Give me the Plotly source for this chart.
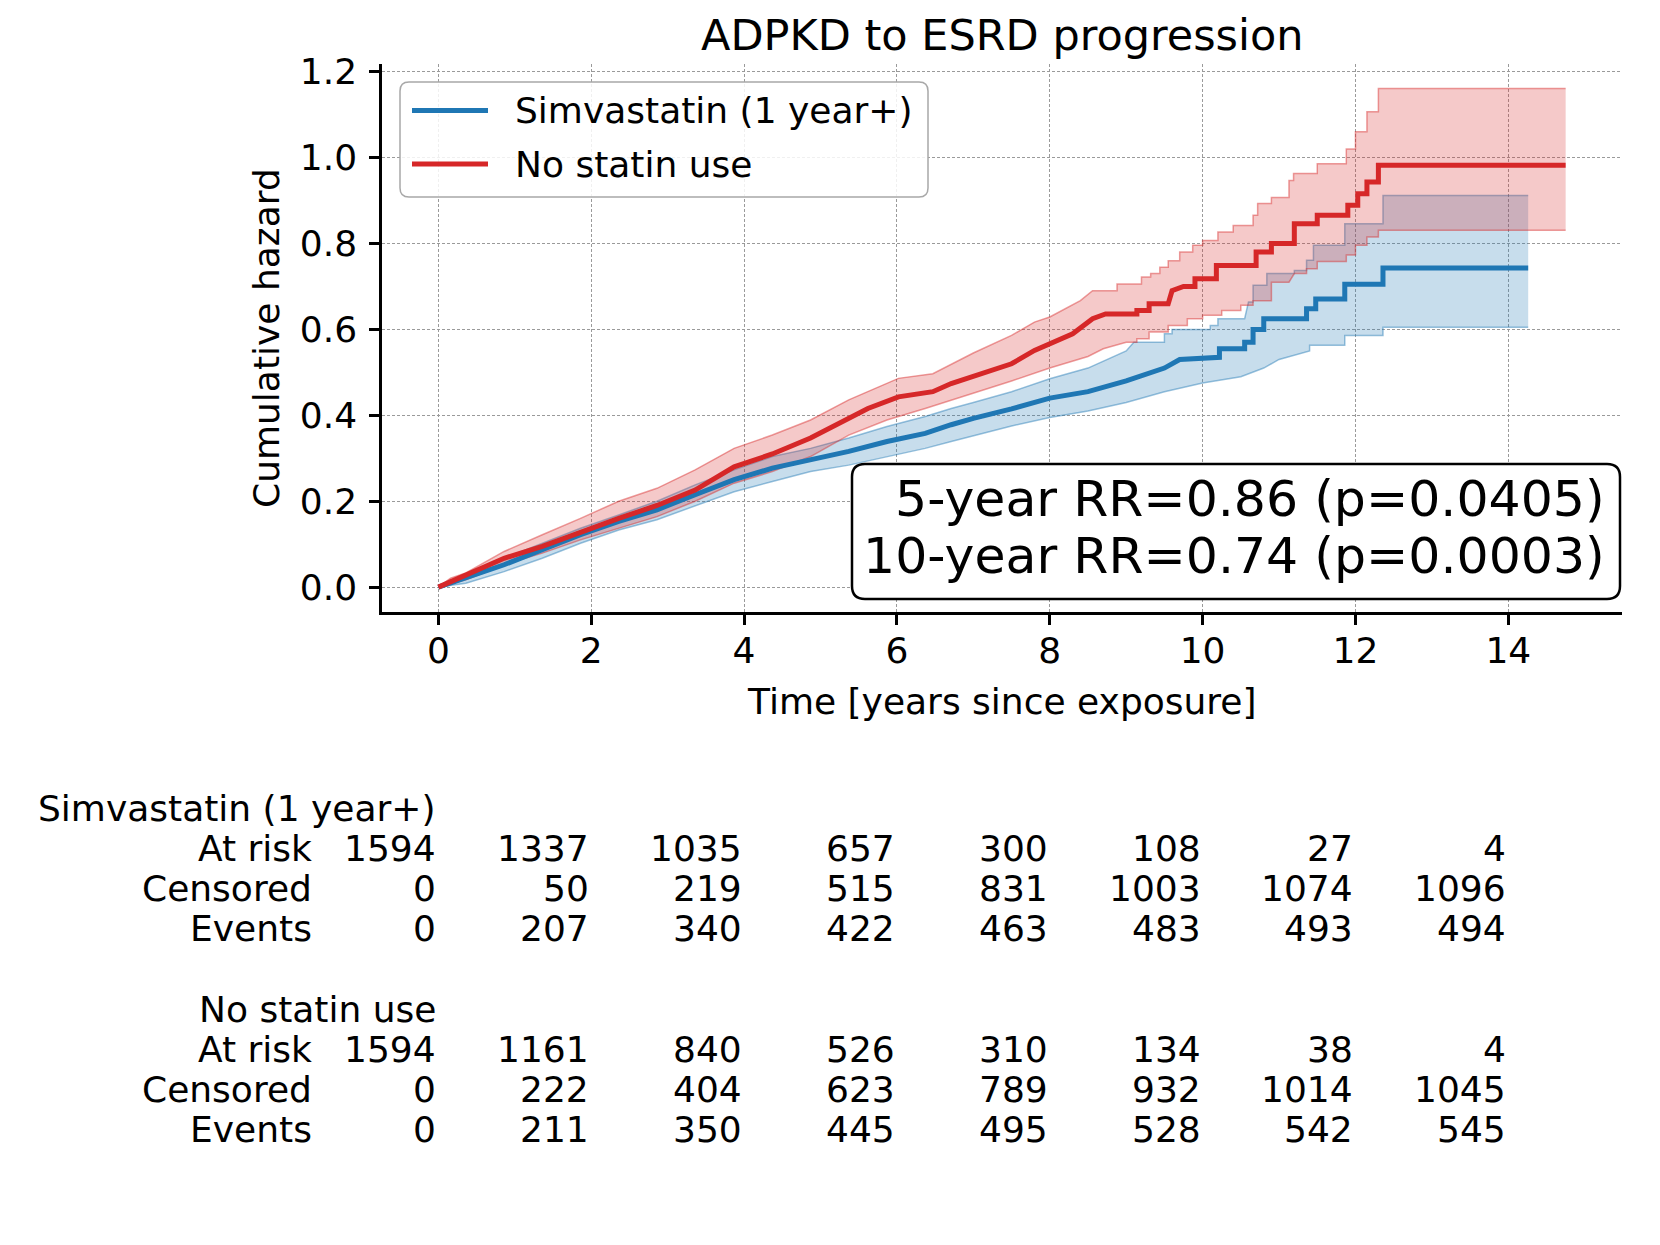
import plotly.graph_objects as go

# ---------------- data ----------------
title_text = "ADPKD to ESRD progression"
group_names = ["Simvastatin (1 year+)", "No statin use"]
row_labels = ["At risk", "Censored", "Events"]
tick_years = [0, 2, 4, 6, 8, 10, 12, 14]
y_ticks = [0.0, 0.2, 0.4, 0.6, 0.8, 1.0, 1.2]
rr_lines = ["5-year RR=0.86 (p=0.0405)", "10-year RR=0.74 (p=0.0003)"]

# cumulative hazard (time, value) — Simvastatin (1 year+)
simva_line = [(0, 0), (0.36, 0.021), (0.86, 0.052), (1.36, 0.087), (1.86, 0.122), (2.36, 0.153),
              (2.86, 0.18), (3.36, 0.215), (3.87, 0.25), (4.37, 0.277), (4.87, 0.296), (5.37, 0.316),
              (5.87, 0.339), (6.37, 0.358), (6.71, 0.378), (7.0, 0.393), (7.5, 0.415), (8.0, 0.44),
              (8.5, 0.455), (9.0, 0.48), (9.5, 0.51), (9.7, 0.53), (10.22, 0.535), (10.22, 0.555),
              (10.55, 0.555), (10.55, 0.57), (10.66, 0.57), (10.66, 0.60), (10.8, 0.60), (10.8, 0.625),
              (11.36, 0.625), (11.36, 0.648), (11.48, 0.648), (11.48, 0.671), (11.86, 0.671),
              (11.86, 0.705), (12.36, 0.705), (12.36, 0.743), (14.26, 0.743)]
simva_upper = [(0, 0), (0.36, 0.029), (0.86, 0.067), (1.36, 0.102), (1.86, 0.137), (2.36, 0.168),
               (2.86, 0.2), (3.36, 0.238), (3.87, 0.273), (4.37, 0.304), (4.87, 0.323), (5.37, 0.347),
               (5.87, 0.374), (6.37, 0.397), (6.71, 0.416), (7.0, 0.43), (7.5, 0.455), (8.0, 0.485),
               (8.5, 0.51), (9.0, 0.55), (9.1, 0.57), (9.5, 0.57), (9.5, 0.59), (9.6, 0.59), (9.6, 0.60),
               (10.1, 0.60), (10.1, 0.609), (10.2, 0.609), (10.2, 0.625), (10.55, 0.625), (10.6, 0.664),
               (10.66, 0.664), (10.66, 0.703), (10.84, 0.703), (10.84, 0.73), (11.2, 0.73), (11.2, 0.737),
               (11.36, 0.737), (11.36, 0.761), (11.45, 0.761), (11.45, 0.796), (11.86, 0.796),
               (11.86, 0.846), (12.36, 0.846), (12.36, 0.912), (14.26, 0.912)]
simva_lower = [(0, 0), (0.36, 0.009), (0.86, 0.036), (1.36, 0.067), (1.86, 0.102), (2.36, 0.133),
               (2.86, 0.157), (3.36, 0.19), (3.87, 0.222), (4.37, 0.246), (4.87, 0.269), (5.37, 0.284),
               (5.87, 0.304), (6.37, 0.323), (6.71, 0.339), (7.0, 0.352), (7.5, 0.375), (8.0, 0.395),
               (8.5, 0.41), (9.0, 0.43), (9.5, 0.455), (10.0, 0.475), (10.5, 0.49), (10.8, 0.51),
               (11.0, 0.53), (11.4, 0.55), (11.4, 0.563), (11.86, 0.563), (11.86, 0.586), (12.36, 0.586),
               (12.36, 0.605), (14.26, 0.605)]

# cumulative hazard (time, value) — No statin use
nostat_line = [(0, 0), (0.36, 0.029), (0.86, 0.067), (1.36, 0.095), (1.86, 0.129), (2.36, 0.16),
               (2.86, 0.19), (3.36, 0.226), (3.87, 0.28), (4.37, 0.31), (4.87, 0.347), (5.37, 0.393),
               (5.62, 0.416), (6.02, 0.443), (6.47, 0.455), (6.71, 0.474), (7.0, 0.49), (7.5, 0.52),
               (7.8, 0.551), (8.03, 0.57), (8.3, 0.59), (8.56, 0.625), (8.73, 0.636), (9.14, 0.636),
               (9.14, 0.644), (9.3, 0.644), (9.3, 0.66), (9.55, 0.66), (9.6, 0.69), (9.75, 0.70),
               (9.9, 0.70), (9.9, 0.718), (10.18, 0.718), (10.18, 0.749), (10.7, 0.749), (10.7, 0.78),
               (10.9, 0.78), (10.9, 0.80), (11.2, 0.80), (11.2, 0.846), (11.5, 0.846), (11.5, 0.866),
               (11.9, 0.866), (11.9, 0.889), (12.03, 0.889), (12.03, 0.916), (12.15, 0.916),
               (12.15, 0.943), (12.3, 0.943), (12.3, 0.982), (14.75, 0.982)]
nostat_upper = [(0, 0), (0.16, 0.021), (0.36, 0.033), (0.86, 0.083), (1.36, 0.122), (1.86, 0.16),
                (2.36, 0.2), (2.86, 0.23), (3.36, 0.273), (3.87, 0.323), (4.37, 0.354), (4.87, 0.389),
                (5.37, 0.436), (6.02, 0.486), (6.47, 0.497), (6.71, 0.519), (7.0, 0.545), (7.5, 0.586),
                (7.8, 0.617), (8.0, 0.629), (8.2, 0.648), (8.4, 0.667), (8.56, 0.69), (8.88, 0.69),
                (8.88, 0.706), (9.2, 0.706), (9.2, 0.722), (9.32, 0.722), (9.32, 0.73), (9.44, 0.73),
                (9.44, 0.745), (9.55, 0.745), (9.55, 0.76), (9.7, 0.76), (9.7, 0.78), (9.87, 0.78),
                (9.87, 0.796), (10.0, 0.796), (10.0, 0.807), (10.2, 0.807), (10.2, 0.827), (10.4, 0.827),
                (10.4, 0.842), (10.66, 0.842), (10.66, 0.866), (10.72, 0.866), (10.72, 0.893),
                (10.9, 0.893), (10.9, 0.907), (11.13, 0.907), (11.13, 0.947), (11.19, 0.947),
                (11.19, 0.963), (11.5, 0.963), (11.5, 0.986), (11.88, 0.986), (11.88, 1.02), (12.0, 1.02),
                (12.0, 1.06), (12.15, 1.06), (12.15, 1.107), (12.3, 1.107), (12.3, 1.161), (14.75, 1.161)]
nostat_lower = [(0, 0), (0.36, 0.017), (0.86, 0.052), (1.36, 0.079), (1.86, 0.11), (2.36, 0.137),
                (2.86, 0.164), (3.36, 0.2), (3.87, 0.242), (4.37, 0.269), (4.87, 0.304), (5.37, 0.354),
                (5.87, 0.389), (6.37, 0.416), (6.71, 0.435), (7.0, 0.452), (7.5, 0.48), (8.0, 0.51),
                (8.5, 0.537), (8.7, 0.555), (9.0, 0.57), (9.14, 0.57), (9.14, 0.578), (9.3, 0.578),
                (9.3, 0.594), (9.55, 0.594), (9.55, 0.609), (9.8, 0.609), (9.8, 0.625), (10.0, 0.625),
                (10.0, 0.633), (10.25, 0.633), (10.25, 0.644), (10.5, 0.644), (10.5, 0.656),
                (10.66, 0.656), (10.66, 0.667), (10.9, 0.667), (10.9, 0.71), (11.13, 0.71), (11.2, 0.73),
                (11.36, 0.73), (11.36, 0.741), (11.5, 0.741), (11.5, 0.758), (11.88, 0.758),
                (11.88, 0.773), (12.0, 0.773), (12.0, 0.796), (12.15, 0.796), (12.15, 0.815),
                (12.3, 0.815), (12.3, 0.831), (14.75, 0.831)]

# number-at-risk table
simva_at_risk = [1594, 1337, 1035, 657, 300, 108, 27, 4]
simva_censored = [0, 50, 219, 515, 831, 1003, 1074, 1096]
simva_events = [0, 207, 340, 422, 463, 483, 493, 494]
nostat_at_risk = [1594, 1161, 840, 526, 310, 134, 38, 4]
nostat_censored = [0, 222, 404, 623, 789, 932, 1014, 1045]
nostat_events = [0, 211, 350, 445, 495, 528, 542, 545]

# ---------------- styling / layout ----------------
W, H = 1660, 1245
L, R, T, B = 374, 1614, 56, 604          # plot area in pixels
FONT = "DejaVu Sans"
BLUE, RED = "#1f77b4", "#d62728"
BLUE_FILL, RED_FILL = "rgba(31,119,180,0.25)", "rgba(214,39,40,0.25)"
BLUE_EDGE, RED_EDGE = "rgba(31,119,180,0.45)", "rgba(214,39,40,0.45)"


def px(x):
    return (x - L) / (R - L)


def py(y):
    return (B - y) / (B - T)


def xs(pairs):
    return [p[0] for p in pairs]


def ys(pairs):
    return [p[1] for p in pairs]


fig = go.Figure()


def add_band(lower, upper, edge, fill):
    fig.add_trace(go.Scatter(x=xs(lower), y=ys(lower), mode="lines",
                             line=dict(color=edge, width=1.5), showlegend=False, hoverinfo="skip"))
    fig.add_trace(go.Scatter(x=xs(upper), y=ys(upper), mode="lines", fill="tonexty",
                             fillcolor=fill, line=dict(color=edge, width=1.5),
                             showlegend=False, hoverinfo="skip"))


add_band(simva_lower, simva_upper, BLUE_EDGE, BLUE_FILL)
add_band(nostat_lower, nostat_upper, RED_EDGE, RED_FILL)
fig.add_trace(go.Scatter(x=xs(simva_line), y=ys(simva_line), mode="lines", name=group_names[0],
                         line=dict(color=BLUE, width=5), showlegend=False))
fig.add_trace(go.Scatter(x=xs(nostat_line), y=ys(nostat_line), mode="lines", name=group_names[1],
                         line=dict(color=RED, width=5), showlegend=False))

axis_common = dict(showline=True, linecolor="black", linewidth=2.5, mirror=False,
                   ticks="outside", ticklen=10, tickwidth=2.5, tickcolor="black",
                   showgrid=True, gridcolor="#9a9a9a", gridwidth=1, griddash="3px,2px",
                   zeroline=False, tickfont=dict(family=FONT, size=36, color="black"))

fig.update_xaxes(range=[-0.7375, 15.4875], tickvals=tick_years, ticklabelstandoff=-5,
                 ticktext=[str(v) for v in tick_years], **axis_common)
fig.update_yaxes(range=[-0.058, 1.218], tickvals=y_ticks, ticklabelstandoff=5,
                 ticktext=[f"{v:.1f}" for v in y_ticks], **axis_common)

annotations = []
shapes = []


def text(x, y, s, size=36, xanchor="center", xref="paper", angle=0, yanchor="middle"):
    annotations.append(dict(x=x, y=y, xref=xref, yref="paper", text=s, showarrow=False,
                            xanchor=xanchor, yanchor=yanchor, textangle=angle,
                            font=dict(family=FONT, size=size, color="black")))


# title and axis titles
text(px(994), py(0), title_text, size=43, yanchor="top")
text(px(994), py(693), "Time [years since exposure]")
text(px(258), py(330), "Cumulative hazard", angle=-90)


def rounded_rect(x0, y0, x1, y1, r):
    rx, ry = r / (R - L), r / (B - T)
    a0, a1 = px(x0), px(x1)
    b0, b1 = py(y0), py(y1)          # b0 top, b1 bottom in paper coords
    return (f"M {a0+rx},{b0} L {a1-rx},{b0} Q {a1},{b0} {a1},{b0-ry} "
            f"L {a1},{b1+ry} Q {a1},{b1} {a1-rx},{b1} L {a0+rx},{b1} "
            f"Q {a0},{b1} {a0},{b1+ry} L {a0},{b0-ry} Q {a0},{b0} {a0+rx},{b0} Z")


# legend (drawn as a framed box)
shapes.append(dict(type="path", xref="paper", yref="paper", layer="above",
                   path=rounded_rect(392, 74, 920, 189, 9),
                   line=dict(color="#a8a8a8", width=1.5), fillcolor="rgba(255,255,255,0.85)"))
for yy, col, name in [(102.5, BLUE, group_names[0]), (156, RED, group_names[1])]:
    shapes.append(dict(type="line", xref="paper", yref="paper", layer="above",
                       x0=px(404), x1=px(480), y0=py(yy), y1=py(yy),
                       line=dict(color=col, width=5)))
    text(px(505), py(yy), name, xanchor="left")

# RR box
shapes.append(dict(type="path", xref="paper", yref="paper", layer="above",
                   path=rounded_rect(844, 456, 1612, 591, 13),
                   line=dict(color="black", width=2.5), fillcolor="white"))
text(px(1599), py(491), rr_lines[0], size=50.5, xanchor="right")
text(px(1599), py(547), rr_lines[1], size=50.5, xanchor="right")

# at-risk table
groups = [
    (group_names[0], [simva_at_risk, simva_censored, simva_events], 800),
    (group_names[1], [nostat_at_risk, nostat_censored, nostat_events], 1001),
]
row_gap = 40.3
for gname, rows, y0 in groups:
    text(0, py(y0), gname, xanchor="right", xref="x")
    for i, (lab, vals) in enumerate(zip(row_labels, rows)):
        yy = y0 + row_gap * (i + 1)
        text(px(306), py(yy), lab, xanchor="right")
        for t, v in zip(tick_years, vals):
            text(t, py(yy), str(v), xanchor="right", xref="x")

fig.update_layout(width=W, height=H, margin=dict(l=L, r=W - R, t=T, b=H - B, pad=0),
                  plot_bgcolor="white", paper_bgcolor="white", showlegend=False,
                  annotations=annotations, shapes=shapes,
                  font=dict(family=FONT, size=36, color="black"))

fig.write_html("out.html")
